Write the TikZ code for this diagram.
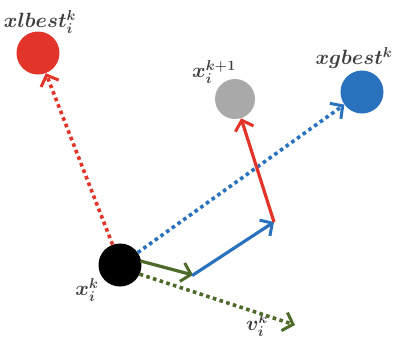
\documentclass[tikz,border=0pt]{standalone}
\usetikzlibrary{arrows.meta}
\definecolor{cred}{HTML}{E3342A}
\definecolor{cgray}{HTML}{A9A9A9}
\definecolor{cblue}{HTML}{2B72BE}
\definecolor{cgreen}{HTML}{4E6A2A}
\definecolor{ctext}{HTML}{404040}
\begin{document}
\begin{tikzpicture}[x=1bp,y=-1bp,
  dot/.style={circle,minimum size=43bp,inner sep=0pt},
  lbl/.style={text=ctext,font=\fontsize{20}{22}\selectfont\boldmath,inner sep=0pt},
  tip/.style={-{Straight Barb[length=9bp,width=19bp,line width=3bp]}},
  solid line/.style={line width=3.2bp,tip},
  dotline/.style={line width=3.6bp,dash pattern=on 3.6bp off 3.4bp,tip}]
\useasboundingbox (0,0) rectangle (395,340);
\node[dot,fill=cred] (lb) at (38,53) {};
\node[dot,fill=cgray,minimum size=40bp] (nx) at (235,99) {};
\node[dot,fill=cblue] (gb) at (362,92) {};
\node[dot,fill=black,minimum size=43bp] (x) at (120,265) {};
\coordinate (p1) at (193,275);
\coordinate (p2) at (274,222);
\coordinate (v) at (295,325);
\node[lbl] (tlb) at (40,22) {$xlbest_i^k$};
\node[lbl] (tnx) at (214,72) {$x_i^{k+1}$};
\node[lbl] (tgb) at (354,58) {$xgbest^k$};
\node[lbl] (tx) at (87,290) {$x_i^k$};
\node[lbl] (tv) at (257,325) {$v_i^k$};
\draw[dotline,cred] (x.110) -- (lb);
\draw[dotline,cblue] (x.35) -- (gb);
\draw[dotline,cgreen] (x.-25) -- (v);
\draw[solid line,cgreen,shorten <=-1bp] (x.10) -- (p1);
\draw[solid line,cblue,shorten <=-1bp] (p1) -- (p2);
\draw[solid line,cred,line cap=butt] (p2) -- (nx);
\end{tikzpicture}
\end{document}
